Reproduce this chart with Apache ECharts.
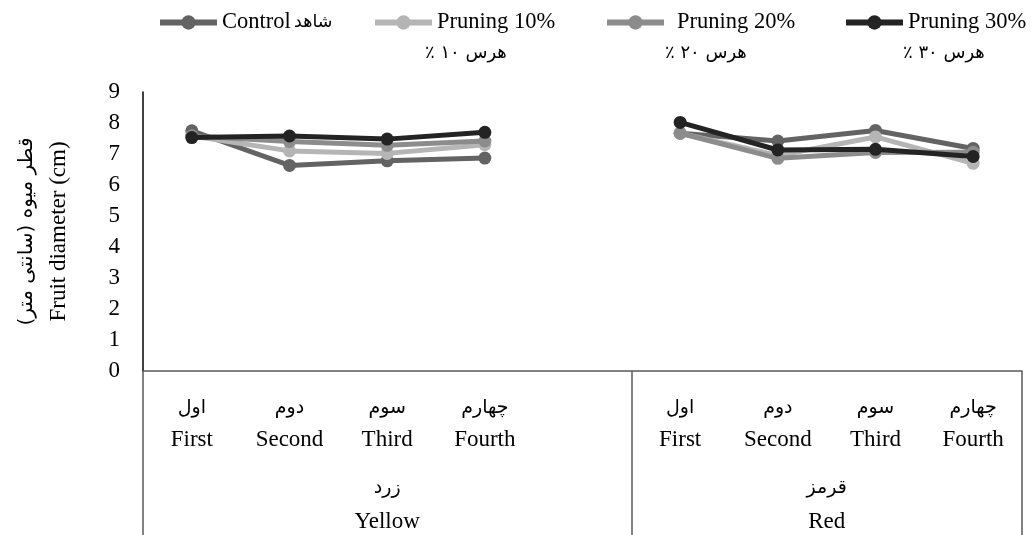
<!DOCTYPE html>
<html>
<head>
<meta charset="utf-8">
<script src="https://cdn.jsdelivr.net/npm/echarts@6/dist/echarts.min.js"></script>
<style>
html,body{margin:0;padding:0;background:#fff;}
#chart{width:1035px;height:535px;}
</style>
</head>
<body>
<div id="chart"></div>
<script>
// ---- data ----
const catsEn = ['First', 'Second', 'Third', 'Fourth', '', 'First', 'Second', 'Third', 'Fourth'];
const catsFa = ['اول', 'دوم', 'سوم', 'چهارم', '', 'اول', 'دوم', 'سوم', 'چهارم'];
const groupEn = ['Yellow', 'Red'];
const groupFa = ['زرد', 'قرمز'];
const groupSizes = [5, 4];
const yTicks = [0, 1, 2, 3, 4, 5, 6, 7, 8, 9];

const seriesNames = ['Control', 'Pruning 10%', 'Pruning 20%', 'Pruning 30%'];
const seriesFa = ['شاهد', 'هرس ۱۰ ٪', 'هرس ۲۰ ٪', 'هرس ۳۰ ٪'];
const control   = [7.75, 6.63, 6.78, 6.87, null, 7.67, 7.42, 7.76, 7.18];
const pruning10 = [7.58, 7.10, 7.02, 7.30, null, 7.67, 6.95, 7.55, 6.70];
const pruning20 = [7.58, 7.40, 7.28, 7.42, null, 7.67, 6.86, 7.05, 7.06];
const pruning30 = [7.53, 7.58, 7.48, 7.70, null, 8.02, 7.13, 7.15, 6.92];
const seriesValues = [control, pruning10, pruning20, pruning30];

// ---- styles ----
const colors = ['#636363', '#b5b5b5', '#8c8c8c', '#232323'];
const SERIF = "'Liberation Serif', 'Times New Roman', serif";
const FA = "'DejaVu Sans', 'Noto Sans', sans-serif";
const RLM = '\u200F';
const rtl = s => RLM + s + RLM;

const bounds = [0];
groupSizes.forEach(s => bounds.push(bounds[bounds.length - 1] + s));
const totalSlots = catsEn.length;
const groupMid = [bounds[0] + groupSizes[0] / 2, bounds[1] + (totalSlots - bounds[1]) / 2];

const chart = echarts.init(document.getElementById('chart'), null, {renderer: 'canvas'});

const legendLeft = [152, 367, 599, 838];
const legendTextPad = [0, 0, 8, 0];
const faSecondX = [0, 425, 665, 903];

const option = {
  animation: false,
  backgroundColor: '#ffffff',
  grid: {left: 143, right: 13, top: 92, bottom: 164, containLabel: false},
  legend: seriesNames.map((n, i) => ({
    data: [n],
    left: legendLeft[i],
    top: 6,
    itemWidth: 57,
    itemHeight: 18,
    selectedMode: false,
    lineStyle: {width: 6},
    formatter: name => i === 0
      ? '{en|' + name + '} {fa|' + seriesFa[0] + '}'
      : '{en|' + name + '}',
    textStyle: {
      rich: {
        en: {fontFamily: SERIF, fontSize: 22.5, color: '#000', padding: [0, 0, 0, legendTextPad[i]]},
        fa: {fontFamily: FA, fontSize: 17.5, color: '#000'}
      }
    }
  })),
  graphic: [1, 2, 3].map(i => ({
    type: 'text',
    x: faSecondX[i],
    y: 53,
    style: {
      text: rtl(seriesFa[i]),
      font: '18px ' + FA,
      fill: '#000',
      verticalAlign: 'middle'
    }
  })),
  xAxis: [
    {
      type: 'category',
      data: catsEn.map((_, i) => String(i)),
      boundaryGap: true,
      axisLine: {show: true, lineStyle: {color: '#595959', width: 1.5}},
      axisTick: {show: false},
      splitLine: {show: false},
      axisLabel: {
        interval: 0,
        margin: 21,
        formatter: (v, i) => catsEn[i] ? '{fa|' + catsFa[i] + '}\n{en|' + catsEn[i] + '}' : '',
        rich: {
          fa: {fontFamily: FA, fontSize: 19, lineHeight: 32, color: '#000'},
          en: {fontFamily: SERIF, fontSize: 23, lineHeight: 32, color: '#000'}
        }
      }
    },
    {
      type: 'value',
      position: 'bottom',
      offset: 0,
      min: 0,
      max: totalSlots,
      interval: 0.5,
      axisLine: {show: false},
      splitLine: {show: false},
      axisTick: {
        show: true,
        customValues: [0, bounds[1], totalSlots],
        length: 164,
        lineStyle: {color: '#595959', width: 1.5}
      },
      axisLabel: {
        margin: 100,
        customValues: groupMid,
        formatter: v => {
          const gi = v < bounds[1] ? 0 : 1;
          return '{fa|' + groupFa[gi] + '}\n{en|' + groupEn[gi] + '}';
        },
        rich: {
          fa: {fontFamily: FA, fontSize: 19, lineHeight: 34, color: '#000'},
          en: {fontFamily: SERIF, fontSize: 23, lineHeight: 34, color: '#000'}
        }
      }
    }
  ],
  yAxis: {
    type: 'value',
    min: yTicks[0],
    max: yTicks[yTicks.length - 1],
    interval: 1,
    axisLine: {show: true, lineStyle: {color: '#000', width: 1.5}},
    axisTick: {show: false},
    splitLine: {show: false},
    axisLabel: {fontFamily: SERIF, fontSize: 23, color: '#000', margin: 23},
    name: '{fa|' + rtl('قطر میوه (سانتی متر)') + '}\n{en|Fruit diameter (cm)}',
    nameLocation: 'middle',
    nameRotate: 90,
    nameGap: 68,
    nameTextStyle: {
      rich: {
        fa: {fontFamily: FA, fontSize: 20, lineHeight: 32, color: '#000'},
        en: {fontFamily: SERIF, fontSize: 23, lineHeight: 32, color: '#000'}
      }
    }
  },
  series: seriesNames.map((n, i) => ({
    name: n,
    type: 'line',
    xAxisIndex: 0,
    data: seriesValues[i],
    connectNulls: false,
    symbol: 'circle',
    symbolSize: 13,
    lineStyle: {color: colors[i], width: 5},
    itemStyle: {color: colors[i]},
    emphasis: {disabled: true},
    z: 2 + i
  }))
};

chart.setOption(option);
</script>
</body>
</html>
